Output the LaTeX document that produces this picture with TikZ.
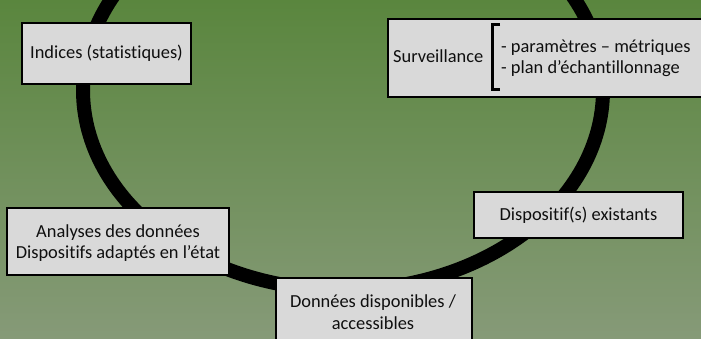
\documentclass[tikz,border=0pt]{standalone}
\usepackage{fontspec}
\setmainfont{Carlito}[Ligatures={NoCommon}]
\definecolor{bgtop}{RGB}{90,134,62}
\definecolor{bgbot}{RGB}{134,154,120}
\definecolor{boxfill}{RGB}{217,217,217}
\definecolor{txt}{RGB}{15,15,15}
\tikzset{
  box/.style={draw=black, line width=1.8pt, fill=boxfill, inner sep=0pt, rectangle},
  lbl/.style={text=txt, inner sep=0pt, font=\fontsize{18.4}{21.5}\selectfont, align=center},
  ring/.style={draw=black, line width=14pt}
}
\begin{document}
\begin{tikzpicture}[x=1pt,y=-1pt]
\useasboundingbox (0,0) rectangle (701,339);
\begin{scope}
\clip (0,0) rectangle (701,339);
\shade[top color=bgtop, bottom color=bgbot] (0,0) rectangle (701,339);
\draw[ring] (343,90) ellipse [x radius=260pt, y radius=200pt];
% boxes
\node[box, minimum width=169pt, minimum height=61pt] (indices) at (106.5,53.5) {};
\node[lbl] (indicesT) at (indices.center) {Indices (statistiques)};
\node[box, minimum width=323pt, minimum height=78pt, anchor=north west] (surv) at (387,18) {};
\node[lbl, anchor=base west] (survT) at (393,63) {Surveillance};
\draw[line width=3pt] (500,25) -- (492,25) -- (492,90) -- (500,90);
\node[lbl, anchor=base west] (surv1) at (501,53) {- paramètres – métriques};
\node[lbl, anchor=base west] (surv2) at (501,74) {- plan d’échantillonnage};
\node[box, minimum width=222pt, minimum height=67pt] (analyses) at (118,241.5) {};
\node[lbl] (analysesT) at (118,243) {Analyses des données\\Dispositifs adaptés en l’état};
\node[box, minimum width=196pt, minimum height=75pt, anchor=north west] (donnees) at (275,277) {};
\node[lbl] (donneesT) at (373,312) {Données disponibles /\\accessibles};
\node[box, minimum width=209pt, minimum height=46pt] (dispo) at (578.5,215) {};
\node[lbl] (dispoT) at (dispo.center) {Dispositif(s) existants};
\end{scope}
\end{tikzpicture}
\end{document}
